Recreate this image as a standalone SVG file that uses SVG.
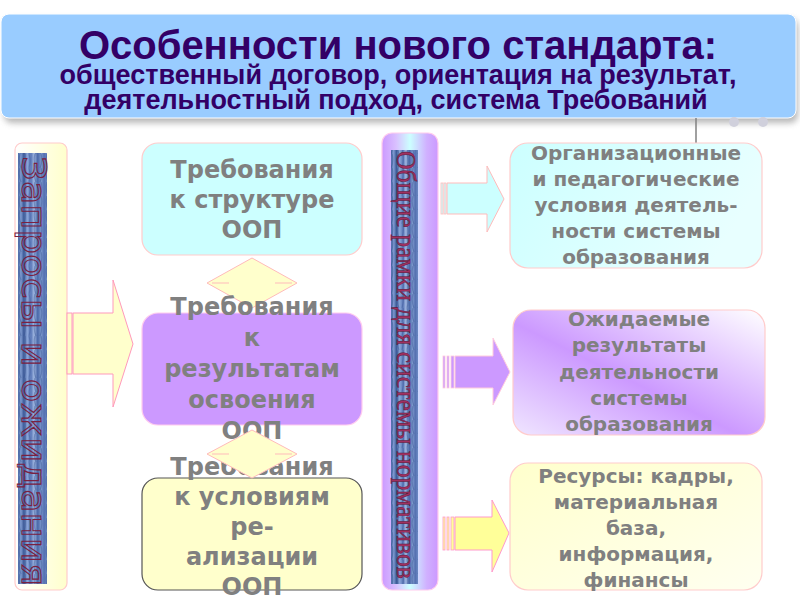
<svg xmlns="http://www.w3.org/2000/svg" width="800" height="600" viewBox="0 0 800 600">
<defs>
  <filter id="shadow" x="-5%" y="-20%" width="110%" height="150%">
    <feGaussianBlur stdDeviation="3"/>
  </filter>
  <linearGradient id="texture" x1="0" y1="0" x2="1" y2="0">
    <stop offset="0" stop-color="#4e6aa8"/>
    <stop offset="0.1" stop-color="#7f9bd0"/>
    <stop offset="0.2" stop-color="#3d5a98"/>
    <stop offset="0.32" stop-color="#8aa5d8"/>
    <stop offset="0.45" stop-color="#5b78b8"/>
    <stop offset="0.55" stop-color="#9fb6e0"/>
    <stop offset="0.68" stop-color="#4a68a8"/>
    <stop offset="0.8" stop-color="#7c98cc"/>
    <stop offset="0.9" stop-color="#5470b0"/>
    <stop offset="1" stop-color="#6d8ac4"/>
  </linearGradient>
  <pattern id="streaks" width="27" height="14" patternUnits="userSpaceOnUse">
    <path d="M2 0 Q4 7 2 14 M8 0 Q6 7 9 14 M14 0 Q16 7 13 14 M20 0 Q18 7 21 14 M25 0 Q26 7 24 14" stroke="#2e4a88" stroke-opacity="0.35" stroke-width="1.2" fill="none"/>
  </pattern>
  <linearGradient id="leftBar" x1="0" y1="0" x2="1" y2="0">
    <stop offset="0" stop-color="#ffffff"/>
    <stop offset="1" stop-color="#ffffcc"/>
  </linearGradient>
  <linearGradient id="midBar" x1="0" y1="0" x2="1" y2="0">
    <stop offset="0" stop-color="#cc99ff"/>
    <stop offset="0.25" stop-color="#d9c0ff"/>
    <stop offset="0.5" stop-color="#ccffff"/>
    <stop offset="0.8" stop-color="#d0b0ff"/>
    <stop offset="1" stop-color="#cc99ff"/>
  </linearGradient>
  <linearGradient id="gCyan" x1="0" y1="0" x2="1" y2="0.3">
    <stop offset="0" stop-color="#ccffff"/>
    <stop offset="1" stop-color="#e8ffff"/>
  </linearGradient>
  <linearGradient id="gPurple" x1="0" y1="1" x2="1" y2="0">
    <stop offset="0" stop-color="#f0e6ff"/>
    <stop offset="0.45" stop-color="#cc99ff"/>
    <stop offset="1" stop-color="#ffffff"/>
  </linearGradient>
  <linearGradient id="gYellow" x1="0" y1="0" x2="1" y2="1">
    <stop offset="0" stop-color="#ffffcc"/>
    <stop offset="1" stop-color="#fffff0"/>
  </linearGradient>
  <style>
    .title { font-family: "Liberation Sans", Arial, sans-serif; font-weight: bold; fill: #330066; text-anchor: middle; }
    .box { stroke-width: 1.2; }
    .ctext { font-family: "DejaVu Sans", Verdana, sans-serif; font-weight: bold; font-size: 24px; fill: #808080; text-anchor: middle; }
    .rtext { font-family: "DejaVu Sans", Verdana, sans-serif; font-weight: bold; font-size: 20px; fill: #808080; text-anchor: middle; }
    .arrow { stroke-width: 1; }
    .vtext1 { font-family: "DejaVu Sans", Verdana, sans-serif; font-size: 33px; fill: none; stroke: #7a2040; stroke-width: 1; }
    .vtext2 { font-family: "Liberation Serif", "Times New Roman", serif; font-size: 28px; fill: #a03060; stroke: #5a1838; stroke-width: 0.5; }
  </style>
</defs>

<!-- Title -->
<g id="title">
  <rect x="4" y="19" width="794" height="104" rx="8" fill="#888888" opacity="0.6" filter="url(#shadow)"/>
  <rect x="1" y="14" width="795" height="104" rx="8" fill="#99ccff" stroke="#ffffff" stroke-width="1"/>
  <text class="title" x="398" y="59" font-size="40">Особенности нового стандарта:</text>
  <text class="title" x="398" y="84" font-size="27">общественный договор, ориентация на результат,</text>
  <text class="title" x="396" y="109" font-size="27">деятельностный подход, система Требований</text>
  <line x1="696" y1="118" x2="696" y2="143" stroke="#808080" stroke-width="1.5"/>
  <circle cx="734" cy="122" r="5" fill="#d0d0dc"/>
  <circle cx="763" cy="122" r="5" fill="#d0d0dc"/>
</g>

<!-- Left bar -->
<g id="left-bar">
  <rect x="15" y="143" width="52" height="447" rx="7" fill="url(#leftBar)" stroke="#ffcccc" stroke-width="1.2"/>
  <rect x="18" y="153" width="29" height="431" fill="url(#texture)"/>
  <rect x="18" y="153" width="29" height="431" fill="url(#streaks)"/>
  <text class="vtext1" transform="translate(22,156) rotate(90)" x="0" y="0" textLength="430" lengthAdjust="spacingAndGlyphs">Запросы и ожидания</text>
</g>

<!-- Middle bar -->
<g id="mid-bar">
  <rect x="382" y="133" width="56" height="457" rx="10" fill="url(#midBar)" stroke="#ffccee" stroke-width="1.2"/>
  <rect x="391" y="150" width="27" height="434" fill="url(#texture)"/>
  <rect x="391" y="150" width="27" height="434" fill="url(#streaks)"/>
  <text class="vtext2" transform="translate(397,151) rotate(90)" x="0" y="0" textLength="428" lengthAdjust="spacingAndGlyphs">Общие рамки для системы нормативов</text>
</g>

<!-- Connectors (arrows) -->
<g id="connectors">
  <g id="arrow-left">
    <rect x="67" y="313" width="5" height="61" fill="#ffffcc" stroke="#ff99bb" stroke-width="1"/>
    <polygon class="arrow" points="73,313 113,313 113,280 133,344 113,407 113,374 73,374" fill="#ffffcc" stroke="#ff99bb"/>
  </g>
  <g id="arrow-r1">
    <rect x="441" y="183" width="2" height="31" fill="#ccffff" stroke="#ffbbbb" stroke-width="0.8"/>
    <rect x="444" y="183" width="2" height="31" fill="#ccffff" stroke="#ffbbbb" stroke-width="0.8"/>
    <polygon class="arrow" points="447,183 487,183 487,166 504,199 487,232 487,214 447,214" fill="#ccffff" stroke="#ffbbbb"/>
  </g>
  <g id="arrow-r2">
    <rect x="443" y="356" width="2" height="32" fill="#cc99ff" stroke="#ffccdd" stroke-width="0.8"/>
    <rect x="447" y="356" width="2" height="32" fill="#cc99ff" stroke="#ffccdd" stroke-width="0.8"/>
    <rect x="451" y="356" width="3" height="32" fill="#cc99ff" stroke="#ffccdd" stroke-width="0.8"/>
    <polygon class="arrow" points="455,356 493,356 493,338 510,372 493,405 493,388 455,388" fill="#cc99ff" stroke="#ffccdd"/>
  </g>
  <g id="arrow-r3">
    <rect x="443" y="517" width="2" height="33" fill="#ffff99" stroke="#ff99cc" stroke-width="0.8"/>
    <rect x="447" y="517" width="2" height="33" fill="#ffff99" stroke="#ff99cc" stroke-width="0.8"/>
    <rect x="451" y="517" width="3" height="33" fill="#ffff99" stroke="#ff99cc" stroke-width="0.8"/>
    <polygon class="arrow" points="455,517 492,517 492,500 509,533 492,572 492,550 455,550" fill="#ffff99" stroke="#ff99cc"/>
  </g>
</g>

<!-- Center column -->
<g id="box-structure">
  <rect class="box" x="142" y="143" width="220" height="112" rx="16" fill="#ccffff" stroke="#ffcccc"/>
  <text class="ctext" x="252" y="178">Требования</text>
  <text class="ctext" x="252" y="208">к структуре</text>
  <text class="ctext" x="252" y="238">ООП</text>
</g>

<g id="diamond-1">
  <polygon points="252,258 297,283 252,308 207,283" fill="#ffffcc" stroke="#ffbbbb" stroke-width="1"/>
  <line x1="212" y1="283" x2="229" y2="283" stroke="#ffbbbb" stroke-width="1"/>
  <line x1="275" y1="283" x2="292" y2="283" stroke="#ffbbbb" stroke-width="1"/>
</g>

<g id="box-results">
  <rect class="box" x="142" y="313" width="220" height="112" rx="16" fill="#cc99ff" stroke="#ffccee"/>
  <text class="ctext" x="252" y="315">Требования</text>
  <text class="ctext" x="252" y="346">к</text>
  <text class="ctext" x="252" y="377">результатам</text>
  <text class="ctext" x="252" y="408">освоения</text>
  <text class="ctext" x="252" y="439">ООП</text>
</g>

<g id="box-conditions">
  <rect class="box" x="142" y="478" width="220" height="112" rx="16" fill="#ffffcc" stroke="#555555"/>
  <text class="ctext" x="252" y="475">Требования</text>
  <text class="ctext" x="252" y="505">к условиям</text>
  <text class="ctext" x="252" y="535">ре-</text>
  <text class="ctext" x="252" y="565">ализации</text>
  <text class="ctext" x="252" y="595">ООП</text>
</g>

<g id="diamond-2">
  <polygon points="252,430 297,454 252,478 207,454" fill="#ffffcc" stroke="#ffbbbb" stroke-width="1"/>
  <line x1="212" y1="454" x2="229" y2="454" stroke="#ffbbbb" stroke-width="1"/>
  <line x1="275" y1="454" x2="292" y2="454" stroke="#ffbbbb" stroke-width="1"/>
</g>

<!-- Right column -->
<g id="box-org">
  <rect class="box" x="510" y="143" width="252" height="125" rx="18" fill="url(#gCyan)" stroke="#ffcccc"/>
  <text class="rtext" x="636" y="160">Организационные</text>
  <text class="rtext" x="636" y="186">и педагогические</text>
  <text class="rtext" x="636" y="212">условия деятель-</text>
  <text class="rtext" x="636" y="238">ности системы</text>
  <text class="rtext" x="636" y="264">образования</text>
</g>

<g id="box-expected">
  <rect class="box" x="513" y="310" width="252" height="125" rx="18" fill="url(#gPurple)" stroke="#ffcccc"/>
  <text class="rtext" x="639" y="326">Ожидаемые</text>
  <text class="rtext" x="639" y="352">результаты</text>
  <text class="rtext" x="639" y="379">деятельности</text>
  <text class="rtext" x="639" y="405">системы</text>
  <text class="rtext" x="639" y="431">образования</text>
</g>

<g id="box-resources">
  <rect class="box" x="510" y="463" width="252" height="127" rx="18" fill="url(#gYellow)" stroke="#ffcccc"/>
  <text class="rtext" x="636" y="483">Ресурсы: кадры,</text>
  <text class="rtext" x="636" y="509">материальная</text>
  <text class="rtext" x="636" y="535">база,</text>
  <text class="rtext" x="636" y="561">информация,</text>
  <text class="rtext" x="636" y="587">финансы</text>
</g>
</svg>
